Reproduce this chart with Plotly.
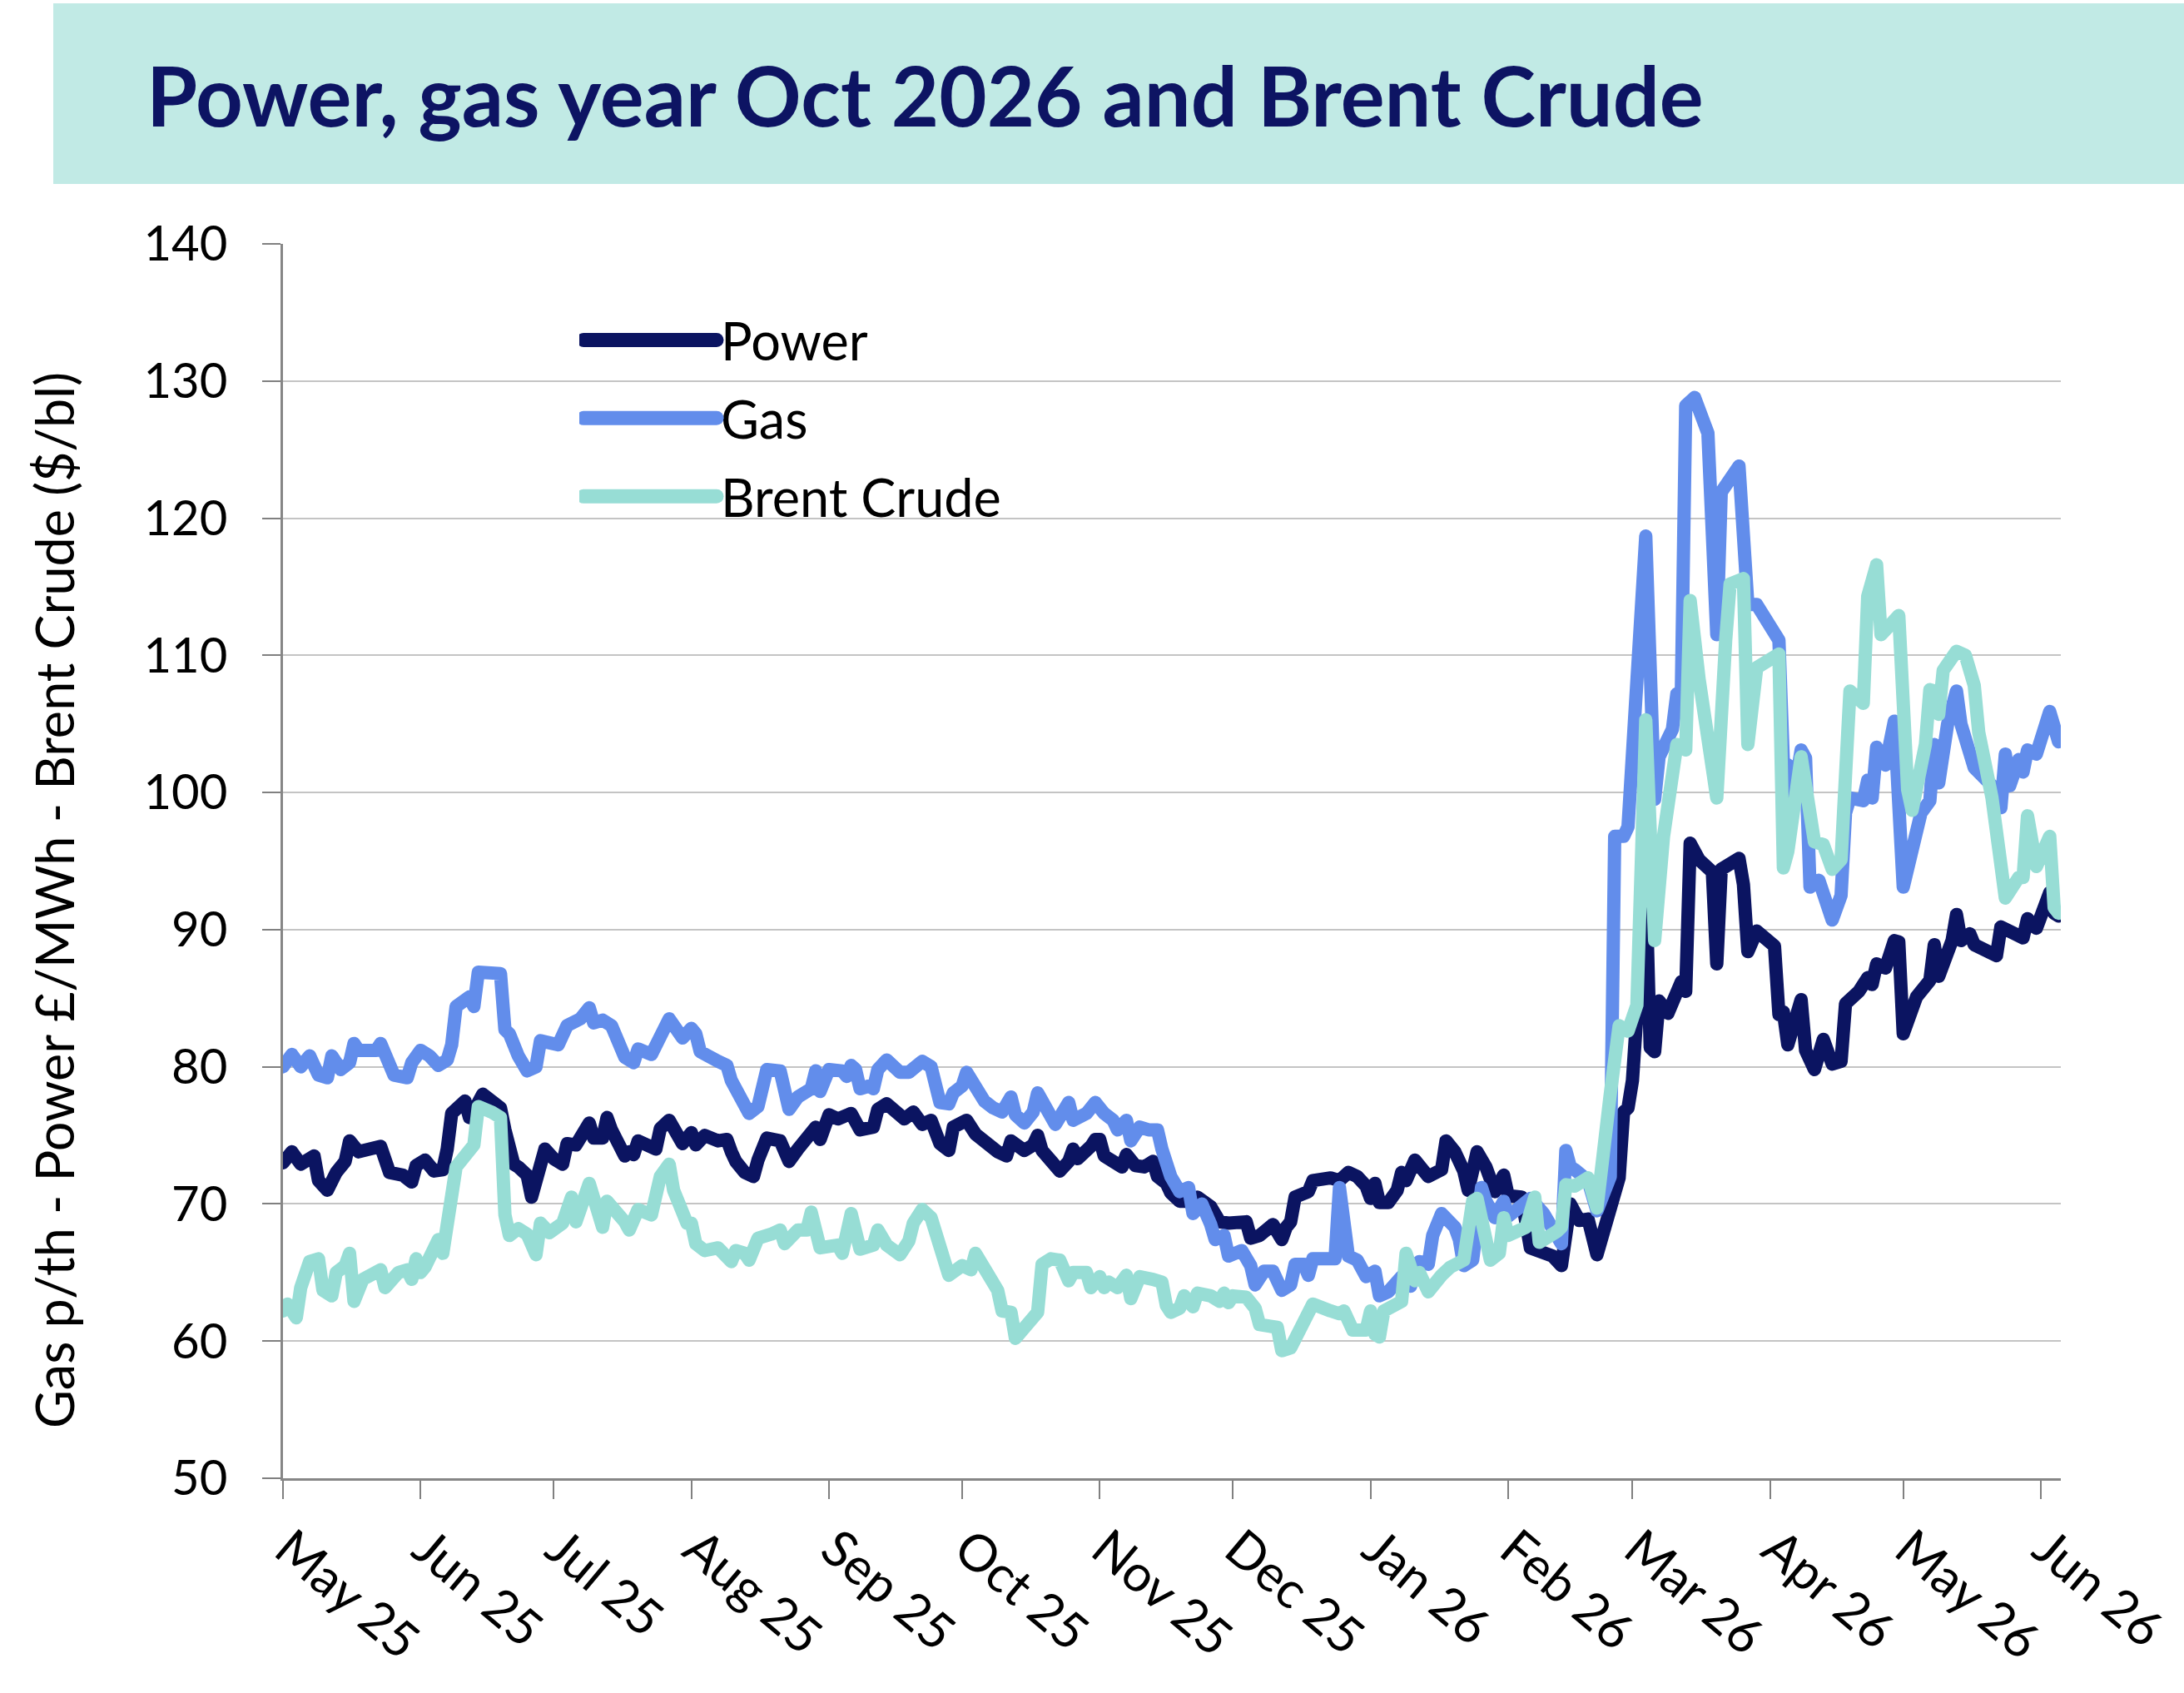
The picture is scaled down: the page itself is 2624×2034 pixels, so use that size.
import pandas as pd
import plotly.graph_objects as go

START = "2025-05-01"  # day offsets below are days since this date

power_days = [0,2,4,7,8,10,12,14,15,17,22,23,24,27,29,30,32,34,36,37,
              38,41,42,44,45,47,49,50,52,53,55,56,58,59,61,63,64,66,69,70,
              72,73,74,77,78,79,80,84,85,87,90,92,93,95,98,100,101,102,104,106,
              107,109,112,114,116,119,120,121,123,125,128,130,133,134,136,140,142,144,146,148,
              150,151,154,156,157,159,161,163,164,167,169,170,171,175,177,178,179,182,183,184,
              185,188,189,190,192,194,196,197,199,200,202,204,206,209,211,213,217,218,220,223,
              225,226,227,228,231,232,236,238,240,242,244,245,246,247,249,251,252,253,255,258,
              261,262,264,266,267,269,271,273,275,276,279,281,282,286,288,290,292,294,296,298,
              301,302,303,304,306,307,308,309,310,312,315,316,317,319,322,323,324,328,329,330,
              332,336,337,338,339,342,343,345,347,349,351,352,355,357,358,359,361,363,364,365,
              368,371,372,373,376,377,378,380,381,386,387,392,393,395,398,399,400]
power_vals = [73.0,73.8,72.9,73.5,71.7,71.0,72.3,73.1,74.6,73.8,74.2,73.2,72.3,72.1,71.6,72.8,73.2,72.4,72.5,74.0,
              76.6,77.5,76.3,77.4,78.0,77.5,77.0,75.4,72.9,72.7,72.1,70.5,73.2,74.0,73.3,72.9,74.4,74.3,75.9,74.8,
              74.8,76.3,75.4,73.5,73.8,73.6,74.6,74.0,75.5,76.1,74.4,75.2,74.3,75.0,74.6,74.7,73.8,73.1,72.3,72.0,
              73.2,74.8,74.6,73.1,74.0,75.1,75.6,74.7,76.5,76.2,76.6,75.4,75.6,76.9,77.3,76.2,76.7,75.8,76.1,74.4,
              73.9,75.6,76.1,75.1,74.8,74.3,73.8,73.5,74.6,73.9,74.3,75.0,73.9,72.4,73.1,74.0,73.3,74.2,74.7,74.7,
              73.5,72.9,72.7,73.6,72.8,72.7,73.1,72.0,71.5,70.8,70.2,70.2,70.5,69.8,68.7,68.6,68.7,67.5,67.7,68.5,
              67.4,68.3,68.7,70.5,70.9,71.7,71.9,71.7,72.3,72.0,71.3,70.4,71.5,70.1,70.1,71.0,72.3,71.7,73.2,72.0,
              72.5,74.6,73.8,72.4,71.0,73.8,72.7,70.9,72.1,70.6,70.5,66.8,66.7,66.2,65.5,70.0,68.8,68.9,66.3,68.9,
              71.9,76.7,77.0,79.0,87.7,93.5,81.4,81.1,84.8,83.9,86.2,85.5,96.3,95.1,94.2,87.5,94.4,95.2,93.3,88.4,
              89.9,88.8,83.8,84.0,81.6,84.9,81.2,79.8,82.0,80.2,80.4,84.6,85.5,86.5,86.0,87.5,87.2,89.2,89.1,82.4,
              85.1,86.3,88.9,86.6,89.2,91.1,89.2,89.7,88.9,88.1,90.2,89.4,90.8,90.1,92.7,91.2,91.0]

gas_days = [0,2,4,6,8,10,11,13,15,16,17,21,22,24,25,28,29,31,33,35,
            37,38,39,42,43,44,49,50,51,53,55,57,58,62,64,67,69,70,72,74,
            77,79,80,83,85,87,90,92,93,94,98,100,101,103,105,107,108,109,112,114,
            116,119,120,121,123,126,127,128,129,130,132,133,134,136,139,141,144,146,148,150,
            151,153,154,157,158,160,162,164,165,167,169,170,172,174,177,178,181,183,185,187,
            188,190,191,193,195,197,198,200,202,204,205,207,209,210,212,213,216,218,219,221,
            223,225,227,228,230,231,232,237,238,240,242,244,246,247,249,252,254,256,258,259,
            261,264,265,266,268,270,271,273,275,276,278,281,284,286,288,289,290,291,294,296,
            299,300,302,303,307,309,310,313,314,315,316,318,321,323,324,328,330,332,337,338,
            339,340,342,343,344,346,349,351,352,353,356,357,358,359,361,363,364,365,369,371,
            372,373,375,377,378,380,381,385,387,388,389,391,392,393,395,398,400]
gas_vals = [80.0,80.9,80.0,80.8,79.4,79.2,80.8,79.8,80.3,81.7,81.2,81.2,81.7,80.5,79.4,79.2,80.3,81.2,80.8,80.1,
            80.5,81.6,84.4,85.1,84.4,86.9,86.8,82.7,82.4,80.8,79.7,80.0,81.9,81.6,83.0,83.5,84.3,83.2,83.4,83.0,
            80.7,80.3,81.3,80.9,82.4,83.5,82.1,82.8,82.4,81.1,80.4,80.1,79.0,77.5,76.6,77.1,78.6,79.8,79.7,76.9,
            77.8,78.4,79.7,78.2,79.8,79.7,79.3,80.1,79.8,78.4,78.6,78.4,79.8,80.5,79.6,79.6,80.4,80.0,77.4,77.3,
            78.1,78.6,79.6,78.1,77.5,77.0,76.7,77.8,76.5,75.9,76.7,78.1,77.0,75.8,77.4,76.1,76.6,77.4,76.6,76.1,
            75.4,76.1,74.6,75.6,75.4,75.4,74.0,72.0,70.9,71.2,69.3,70.0,68.5,67.4,67.7,66.2,66.6,65.5,64.1,65.1,
            65.1,63.7,64.1,65.6,65.6,64.8,66.0,66.0,71.2,66.2,65.9,64.7,65.1,63.3,63.6,64.7,64.0,65.8,65.6,67.7,
            69.3,68.3,67.4,65.5,65.9,71.2,70.2,69.0,70.2,69.1,69.6,70.4,69.3,68.0,67.1,73.9,72.7,72.5,71.7,69.5,
            72.0,96.8,96.8,97.5,118.7,99.5,102.6,104.6,107.2,107.0,128.2,128.8,126.2,111.5,121.9,123.8,113.7,113.7,111.1,102.2,
            102.0,99.2,103.1,102.5,93.1,93.6,90.7,92.5,98.5,99.6,99.4,100.9,99.6,103.3,102.0,105.2,100.0,93.1,98.5,99.4,
            103.5,100.7,105.0,107.4,105.0,102.6,101.8,100.5,98.9,102.8,100.5,102.4,101.5,103.1,102.8,105.9,103.7]

brent_days = [0,1,3,4,6,8,9,11,12,14,15,16,18,22,23,26,28,29,30,31,
              32,34,35,36,37,39,43,44,47,49,50,51,53,55,57,58,60,63,65,66,
              69,72,73,75,77,78,80,83,85,87,88,91,92,93,95,98,100,101,102,104,
              105,107,110,112,113,116,118,119,121,125,126,128,130,133,134,136,139,141,142,144,
              146,148,149,150,153,155,156,157,158,161,162,164,165,167,169,170,171,173,175,176,
              177,178,181,182,184,185,186,188,190,191,193,196,198,199,200,202,203,205,206,209,
              211,212,213,214,217,219,220,224,225,227,229,232,236,238,239,240,241,244,245,246,
              247,248,252,253,255,256,258,261,263,266,268,269,271,272,274,275,276,280,282,283,
              287,288,289,291,294,296,299,301,303,305,307,309,311,312,314,316,317,319,321,323,
              325,326,329,330,332,337,338,339,342,344,345,347,349,351,353,356,357,359,360,364,
              366,367,370,371,372,373,374,377,379,381,382,385,386,388,391,392,393,395,398,399,400]
brent_vals = [62.2,62.7,61.7,63.9,65.8,66.0,63.7,63.3,65.0,65.5,66.4,62.9,64.5,65.2,63.9,65.0,65.2,64.5,66.0,65.0,
              65.4,66.7,67.4,66.4,68.9,72.7,74.3,77.1,76.7,76.3,69.2,67.7,68.2,67.8,66.3,68.6,67.9,68.6,70.5,68.7,
              71.5,68.3,70.2,69.6,68.7,68.1,69.6,69.2,72.0,72.9,71.0,68.6,68.6,67.1,66.6,66.8,65.9,65.8,66.6,66.4,
              65.9,67.5,67.8,68.1,67.1,68.1,68.1,69.4,66.8,67.0,66.4,69.3,66.7,67.0,68.1,67.0,66.3,67.3,68.6,69.6,
              69.0,67.0,65.6,64.8,65.5,65.2,66.4,65.9,65.0,63.7,62.2,62.1,60.2,60.9,61.6,62.1,65.6,66.0,65.9,64.7,
              64.4,65.0,65.0,63.9,64.7,63.9,64.3,63.9,64.8,63.1,64.7,64.5,64.3,62.6,62.1,62.4,63.3,62.5,63.5,63.3,
              62.9,63.5,62.8,63.3,63.2,62.4,61.2,61.0,59.3,59.5,60.9,62.7,62.2,62.0,62.2,61.4,60.8,60.8,62.2,60.5,
              60.3,62.2,62.9,66.4,64.4,65.0,63.6,64.8,65.4,65.9,70.2,70.4,67.5,65.9,66.4,69.0,67.7,68.3,70.5,67.2,
              68.0,68.3,71.4,71.3,71.9,69.7,78.0,83.0,82.6,84.5,105.3,89.2,96.8,99.2,103.5,103.1,114.0,108.3,104.1,99.6,
              111.1,115.2,115.6,103.5,109.1,110.1,94.5,95.7,102.6,99.2,96.4,96.2,94.4,95.1,107.4,106.5,114.3,116.6,111.5,112.9,
              100.2,98.7,103.5,107.5,107.4,105.7,108.9,110.3,110.0,107.8,104.4,99.6,96.8,92.3,93.8,93.8,98.3,94.6,96.8,91.6,91.2]

series_names = ["Power", "Gas", "Brent Crude"]
series_colors = ["#0B1461", "#628DEB", "#97DDD5"]
y_ticks = [50, 60, 70, 80, 90, 100, 110, 120, 130, 140]
y_title = "Gas p/th - Power £/MWh - Brent Crude ($/bl)"
chart_title = "Power, gas year Oct 2026 and Brent Crude"

start = pd.Timestamp(START)


def to_dates(days):
    return start + pd.to_timedelta(days, unit="D")


series = [(power_days, power_vals), (gas_days, gas_vals), (brent_days, brent_vals)]
for d, v in series:
    assert len(d) == len(v)

FONT = "Lato, 'Open Sans', sans-serif"

fig = go.Figure()
for (d, v), name, col in zip(series, series_names, series_colors):
    fig.add_trace(go.Scatter(
        x=to_dates(d), y=v, mode="lines", name=name,
        line=dict(color=col, width=16), legendgroup=name,
    ))

W, H = 2624, 2034
L, R, T, B = 340, 148, 293, 258
pw, ph = W - L - R, H - T - B


def px_x(x):
    return (x - L) / pw


def px_y(y):
    return (H - B - y) / ph


fig.update_layout(
    width=W, height=H,
    margin=dict(l=L, r=R, t=T, b=B, autoexpand=False),
    paper_bgcolor="white", plot_bgcolor="white",
    font=dict(family=FONT, color="black", size=60),
    title=dict(
        text=chart_title,
        font=dict(family=FONT, size=99, color="#0D1463", weight="bold"),
        x=176 / W, xanchor="left", xref="container",
        y=1 - 117 / H, yanchor="middle", yref="container",
    ),
    showlegend=True,
    legend=dict(
        x=px_x(696), xanchor="left", y=px_y(361), yanchor="top",
        bgcolor="rgba(0,0,0,0)", borderwidth=0,
        font=dict(family=FONT, size=63, color="black"),
        itemwidth=160, tracegroupgap=9, traceorder="grouped",
    ),
    xaxis=dict(
        type="date",
        range=[start, start + pd.Timedelta(days=400.5)],
        tick0=START, dtick="M1", tickformat="%b %y", tickangle=40,
        ticks="outside", ticklen=22, tickwidth=2, tickcolor="#808080",
        showline=True, linecolor="#868686", linewidth=3,
        showgrid=False, zeroline=False,
        ticklabelshift=6, ticklabeloverflow="allow",
        tickfont=dict(family=FONT, size=61, color="black"),
    ),
    yaxis=dict(
        range=[50, 140], tickvals=y_ticks,
        ticks="outside", ticklen=22, tickwidth=2, tickcolor="#808080",
        showline=True, linecolor="#868686", linewidth=3,
        showgrid=True, gridcolor="#C4C4C4", gridwidth=2, zeroline=False,
        tickfont=dict(family=FONT, size=58, color="black"),
        ticklabelstandoff=30,
    ),
    annotations=[dict(
        text=y_title, textangle=-90, showarrow=False,
        xref="paper", yref="paper", x=px_x(64), y=px_y(1082),
        xanchor="center", yanchor="middle",
        font=dict(family=FONT, size=63, color="black"),
    )],
    shapes=[dict(
        type="rect", xref="paper", yref="paper",
        x0=px_x(64), x1=px_x(W), y0=px_y(221), y1=px_y(4),
        fillcolor="#C1EAE5", line=dict(width=0), layer="below",
    )],
)

post = """
var s=document.createElement('style');
s.innerHTML='.scatterlayer .js-line, .legend .js-line{stroke-linejoin:round !important;stroke-linecap:round !important;} .legend .js-line{stroke-width:17px !important;}';
document.head.appendChild(s);
"""
fig.write_html("out.html", post_script=post)
